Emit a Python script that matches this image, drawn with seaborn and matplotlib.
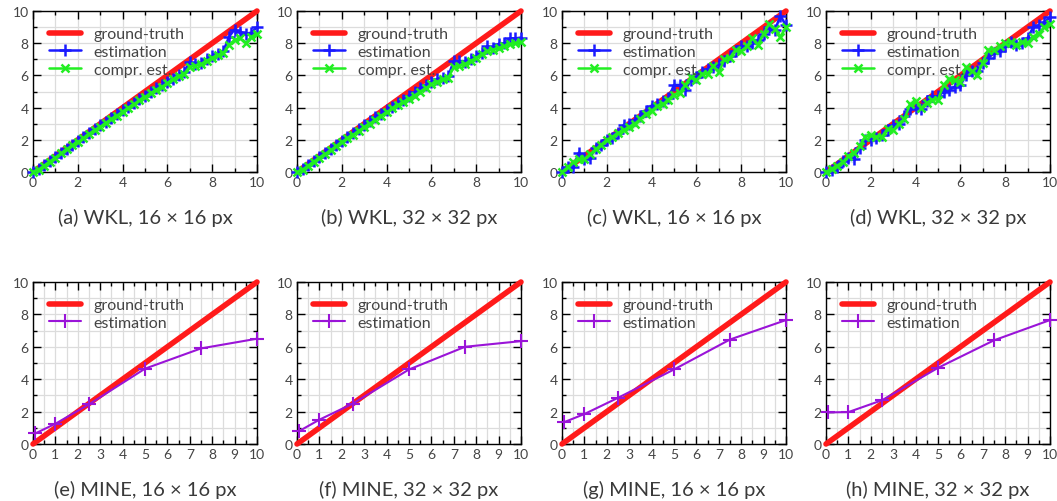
import matplotlib
matplotlib.use("Agg")
import matplotlib.pyplot as plt
import seaborn as sns
from matplotlib.ticker import MultipleLocator

sns.set_style("white")
plt.rcParams["font.family"] = ["Lato", "DejaVu Sans"]

# ---- data ----
wkl_x = [0, 0.25, 0.5, 0.75, 1, 1.25, 1.5, 1.75, 2, 2.25, 2.5, 2.75, 3, 3.25,
         3.5, 3.75, 4, 4.25, 4.5, 4.75, 5, 5.25, 5.5, 5.75, 6, 6.25, 6.5, 6.75,
         7, 7.25, 7.5, 7.75, 8, 8.25, 8.5, 8.75, 9, 9.25, 9.5, 9.75, 10]

est_a = [0.0, 0.2, 0.45, 0.7, 0.95, 1.2, 1.45, 1.7, 1.95, 2.15, 2.4, 2.65, 2.9, 3.1,
         3.35, 3.6, 3.85, 4.05, 4.3, 4.55, 4.75, 4.95, 5.2, 5.4, 5.6, 5.8, 6.0, 6.2,
         6.85, 6.7, 6.8, 7.0, 7.2, 7.35, 7.5, 8.4, 8.85, 8.7, 8.6, 8.65, 9.0]
cmp_a = [0.0, 0.15, 0.4, 0.65, 0.9, 1.15, 1.4, 1.65, 1.85, 2.1, 2.35, 2.6, 2.8, 3.05,
         3.3, 3.5, 3.75, 4.0, 4.2, 4.45, 4.65, 4.9, 5.1, 5.3, 5.5, 5.75, 5.95, 6.1,
         6.55, 6.6, 6.7, 6.9, 7.1, 7.25, 7.4, 7.9, 8.2, 8.3, 8.0, 8.4, 8.55]

est_b = [0.0, 0.2, 0.45, 0.7, 0.95, 1.2, 1.45, 1.7, 1.95, 2.2, 2.45, 2.65, 2.9, 3.15,
         3.4, 3.6, 3.85, 4.05, 4.3, 4.5, 4.75, 4.95, 5.2, 5.4, 5.6, 5.75, 5.85, 5.95,
         6.9, 6.9, 6.85, 7.0, 7.2, 7.4, 7.8, 7.7, 7.95, 8.0, 8.3, 8.3, 8.35]
cmp_b = [0.0, 0.15, 0.4, 0.65, 0.9, 1.1, 1.35, 1.6, 1.85, 2.1, 2.3, 2.55, 2.8, 3.0,
         3.25, 3.5, 3.7, 3.95, 4.15, 4.35, 4.55, 4.75, 5.0, 5.2, 5.45, 5.6, 5.75, 5.85,
         6.5, 6.6, 6.7, 6.9, 7.1, 7.3, 7.5, 7.6, 7.7, 7.8, 7.95, 8.0, 8.05]

est_c = [0.0, 0.3, 0.3, 1.2, 0.8, 0.9, 1.5, 1.7, 2.0, 2.1, 2.4, 2.9, 3.0, 3.2,
         3.5, 3.8, 4.1, 4.2, 4.4, 4.6, 5.4, 5.4, 5.1, 5.7, 5.9, 6.2, 6.4, 6.5,
         6.7, 6.9, 7.2, 7.5, 7.8, 7.8, 8.0, 8.2, 8.6, 9.0, 8.8, 9.7, 9.1]
cmp_c = [0.0, 0.3, 0.6, 0.8, 0.8, 1.1, 1.4, 1.7, 2.0, 2.2, 2.4, 2.6, 2.8, 3.0,
         3.3, 3.6, 3.8, 4.1, 4.2, 4.5, 4.8, 4.9, 5.4, 5.9, 5.7, 6.1, 6.1, 6.6,
         6.2, 7.0, 7.1, 7.6, 7.5, 7.8, 8.3, 7.9, 8.6, 9.2, 8.9, 8.4, 9.0]

est_d = [0.0, 0.1, 0.3, 0.7, 0.9, 0.8, 1.5, 2.0, 2.0, 2.1, 2.3, 2.6, 2.9, 3.0,
         3.5, 3.9, 4.0, 3.9, 4.4, 4.7, 4.7, 5.0, 5.1, 5.3, 5.4, 6.0, 6.3, 6.3,
         6.8, 7.1, 7.4, 7.5, 7.8, 8.1, 7.9, 8.0, 8.3, 9.0, 9.1, 9.3, 9.6]
cmp_d = [0.0, 0.2, 0.4, 0.6, 1.0, 1.2, 1.6, 2.2, 2.3, 2.2, 2.2, 2.7, 2.6, 3.0,
         3.3, 4.2, 4.4, 4.0, 4.3, 4.5, 4.5, 5.4, 5.8, 5.7, 5.6, 6.5, 6.3, 6.0,
         6.8, 7.6, 7.6, 7.8, 8.0, 8.1, 7.9, 8.1, 8.0, 8.4, 8.6, 9.0, 9.2]

truth_x = [0, 10]
truth_y = [0, 10]

mine_x = [0.1, 1, 2.5, 5, 7.5, 10]
mine_e = [0.65, 1.25, 2.45, 4.65, 5.9, 6.5]
mine_f = [0.8, 1.5, 2.5, 4.6, 6.0, 6.35]
mine_g = [1.35, 1.85, 2.85, 4.6, 6.45, 7.65]
mine_h = [1.95, 1.97, 2.7, 4.7, 6.4, 7.65]

captions = ["(a) WKL, 16 × 16 px", "(b) WKL, 32 × 32 px",
            "(c) WKL, 16 × 16 px", "(d) WKL, 32 × 32 px",
            "(e) MINE, 16 × 16 px", "(f) MINE, 32 × 32 px",
            "(g) MINE, 16 × 16 px", "(h) MINE, 32 × 32 px"]

RED = "#ff1a1a"
BLUE = "#1a1aff"
GREEN = "#22ee22"
PURPLE = "#9a14d8"

W, H = 1057, 502
fig = plt.figure(figsize=(W / 100, H / 100), dpi=100)

lefts = [33, 297, 562, 826]
width = 224
rows = [(12, 173), (283, 445)]


def make_ax(col, row):
    x0 = lefts[col]
    top, bot = rows[row]
    return fig.add_axes([x0 / W, 1 - bot / H, width / W, (bot - top) / H])


def style_ax(ax, xmajor, xminor):
    ax.set_xlim(0, 10)
    ax.set_ylim(0, 10)
    ax.xaxis.set_major_locator(MultipleLocator(xmajor))
    ax.xaxis.set_minor_locator(MultipleLocator(xminor))
    ax.yaxis.set_major_locator(MultipleLocator(2))
    ax.yaxis.set_minor_locator(MultipleLocator(1))
    ax.grid(True, which="both", color="#dcdcdc", lw=0.9)
    ax.set_axisbelow(True)
    ax.tick_params(which="both", direction="in", top=True, right=True,
                   bottom=True, left=True, color="black", labelcolor="#444444",
                   labelsize=10, pad=3)
    ax.tick_params(which="major", length=6, width=1)
    ax.tick_params(which="minor", length=3, width=1)
    for s in ax.spines.values():
        s.set_color("black")
        s.set_linewidth(1)
    ax.set_xlabel("")
    ax.set_ylabel("")


def legend(ax):
    ax.legend(loc="upper left", frameon=False, fontsize=11.5, handlelength=2.0,
              labelspacing=0.22, borderaxespad=0.6, handletextpad=0.8,
              labelcolor="#444444")


wkl_sets = [(est_a, cmp_a, False), (est_b, cmp_b, False),
            (est_c, cmp_c, True), (est_d, cmp_d, True)]

for i, (est, cmp_, band) in enumerate(wkl_sets):
    ax = make_ax(i, 0)
    sns.lineplot(x=truth_x, y=truth_y, ax=ax, color=RED, lw=4,
                 label="ground-truth", clip_on=False, zorder=3)
    if band:
        ax.fill_between(wkl_x, [v - 0.25 for v in est], [v + 0.25 for v in est],
                        color="#9fc4f0", alpha=0.45, lw=0, zorder=2)
        ax.fill_between(wkl_x, [v - 0.25 for v in cmp_], [v + 0.25 for v in cmp_],
                        color="#a8e8a8", alpha=0.45, lw=0, zorder=2)
    sns.lineplot(x=wkl_x, y=est, ax=ax, color=BLUE, lw=1.8, marker="+",
                 markersize=9, markeredgewidth=1.8, markeredgecolor=BLUE,
                 label="estimation", clip_on=False, zorder=4)
    sns.lineplot(x=wkl_x, y=cmp_, ax=ax, color=GREEN, lw=1.8, marker="x",
                 markersize=6, markeredgewidth=1.8, markeredgecolor=GREEN,
                 label="compr. est.", clip_on=False, zorder=5)
    style_ax(ax, 2, 1)
    legend(ax)
    fig.text((lefts[i] + width / 2) / W, 1 - 218 / H, captions[i],
             ha="center", va="center", fontsize=14.5, color="#3a3a3a")

for i, vals in enumerate([mine_e, mine_f, mine_g, mine_h]):
    ax = make_ax(i, 1)
    sns.lineplot(x=truth_x, y=truth_y, ax=ax, color=RED, lw=4,
                 label="ground-truth", clip_on=False, zorder=3)
    sns.lineplot(x=mine_x, y=vals, ax=ax, color=PURPLE, lw=1.5, marker="+",
                 markersize=10, markeredgewidth=1.5, markeredgecolor=PURPLE,
                 label="estimation", clip_on=False, zorder=4)
    style_ax(ax, 1, 0.5)
    legend(ax)
    fig.text((lefts[i] + width / 2) / W, 1 - 490 / H, captions[4 + i],
             ha="center", va="center", fontsize=14.5, color="#3a3a3a")

fig.savefig("out.png", dpi=100)
